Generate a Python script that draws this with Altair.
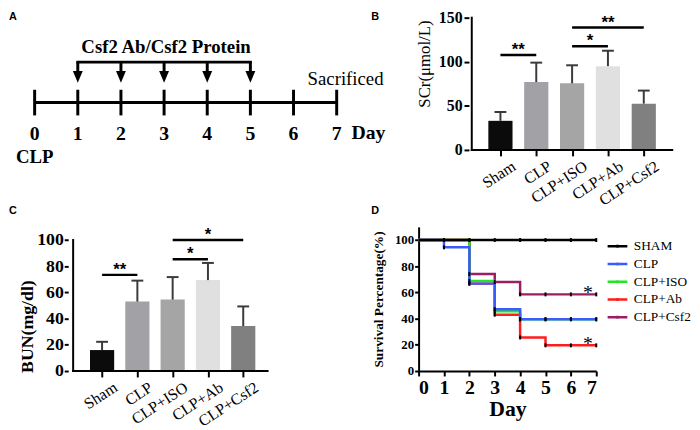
import altair as alt
import pandas as pd

SERIF = "Liberation Serif"
SANS = "Liberation Sans"

# ---------------- Panel B / C : bar charts ----------------
groups = ["Sham", "CLP", "CLP+ISO", "CLP+Ab", "CLP+Csf2"]
group_pos = [0, 1, 2, 3, 4]
bar_colors = ["#0b0b0b", "#a1a1a6", "#a5a5a5", "#e0e0e0", "#808080"]
scr_mean = [33.0, 77.0, 75.5, 95.0, 52.5]
scr_upper = [43.0, 99.0, 96.0, 112.5, 67.3]
bun_mean = [16.0, 53.0, 54.5, 69.4, 34.3]
bun_upper = [22.3, 69.0, 71.7, 82.5, 49.3]

scr_sig_from = [0, 2, 2]
scr_sig_to = [1, 3, 4]
scr_sig_level = [107.7, 117.5, 138.8]
scr_sig_text = ["**", "*", "**"]
bun_sig_from = [0, 2, 2]
bun_sig_to = [1, 3, 4]
bun_sig_level = [73.4, 85.4, 100.0]
bun_sig_text = ["**", "*", "*"]

# ---------------- Panel D : survival ----------------
surv_days = [0, 1, 2, 3, 4, 5, 6, 7]
surv_names = ["SHAM", "CLP", "CLP+ISO", "CLP+Ab", "CLP+Csf2"]
surv_colors = ["#000000", "#3b5bff", "#22e622", "#ff1c1c", "#9b1d62"]
surv_sham = [100, 100, 100, 100, 100, 100, 100, 100]
surv_clp = [100, 94.4, 66.7, 47.2, 39.5, 39.5, 39.5, 39.5]
surv_iso = [100, 100, 68.7, 45.6, 39.5, 39.5, 39.5, 39.5]
surv_ab = [100, 100, 66.7, 43.0, 25.6, 19.6, 19.6, 19.6]
surv_csf2 = [100, 100, 74.0, 67.9, 58.5, 58.5, 58.5, 58.5]
surv_star_day = [6.67, 6.67]
surv_star_value = [58.5, 19.6]

# ---------------- Panel A : timeline ----------------
timeline_days = [0, 1, 2, 3, 4, 5, 6, 7]
dose_days = [1, 2, 3, 4, 5]
protocol_text = "Csf2 Ab/Csf2 Protein"


def panel_title(letter, dx, offset):
    return alt.TitleParams(text=letter, anchor="start", frame="group", font=SANS,
                           fontSize=11, fontWeight="bold", color="black",
                           dx=dx, offset=offset)


# ===== Panel A =====
ax_scale = alt.Scale(domain=[0.778, 5.513], nice=False, zero=False)
ay_scale = alt.Scale(domain=[0, 1], nice=False, zero=False)


def AX(field):
    return alt.X(field, type="quantitative", scale=ax_scale, axis=None)


def AYD(v):
    return alt.YDatum(v, scale=ay_scale, axis=None)


tl_df = pd.DataFrame({"day": timeline_days, "label": [str(d) for d in timeline_days]})
dose_df = pd.DataFrame({"day": dose_days})
span_df = pd.DataFrame({"start": [timeline_days[0]], "end": [timeline_days[-1]]})
dose_span_df = pd.DataFrame({"start": [dose_days[0]], "end": [dose_days[-1]]})

a_line = alt.Chart(span_df).mark_rule(strokeWidth=3, color="black").encode(
    x=AX("start"), x2="end", y=AYD(0.358))
a_ticks = alt.Chart(tl_df).mark_rule(strokeWidth=3, color="black").encode(
    x=AX("day"), y=AYD(0.261), y2=alt.Y2Datum(0.455))
a_nums = alt.Chart(tl_df).mark_text(font=SERIF, fontSize=20, fontWeight="bold",
                                    baseline="middle", color="black").encode(
    x=AX("day"), y=AYD(0.123), text="label:N")
a_clp = alt.Chart(tl_df.head(1)).mark_text(font=SERIF, fontSize=19, fontWeight="bold",
                                           baseline="middle", color="black").encode(
    x=AX("day"), y=AYD(-0.052), text=alt.value("CLP"))
a_day = alt.Chart(tl_df.tail(1)).mark_text(font=SERIF, fontSize=20, fontWeight="bold",
                                           baseline="middle", align="left", dx=15,
                                           color="black").encode(
    x=AX("day"), y=AYD(0.127), text=alt.value("Day"))
a_sac = alt.Chart(tl_df.tail(1)).mark_text(font=SERIF, fontSize=19, baseline="middle",
                                           dx=9, color="black").encode(
    x=AX("day"), y=AYD(0.532), text=alt.value("Sacrificed"))
a_bracket = alt.Chart(dose_span_df).mark_rule(strokeWidth=3, color="black",
                                              strokeCap="square").encode(
    x=AX("start"), x2="end", y=AYD(0.664))
a_shafts = alt.Chart(dose_df).mark_rule(strokeWidth=3, color="black").encode(
    x=AX("day"), y=AYD(0.664), y2=alt.Y2Datum(0.582))
a_heads = alt.Chart(dose_df).mark_point(shape="M-1,-1.2L1,-1.2L0,1.2Z", size=100,
                                        filled=True, color="black", opacity=1).encode(
    x=AX("day"), y=AYD(0.552))
a_text = alt.Chart(dose_span_df).mark_text(font=SERIF, fontSize=19, fontWeight="bold",
                                           baseline="middle", color="black", dx=2).encode(
    x=alt.X("mid:Q", scale=ax_scale, axis=None), y=AYD(0.780),
    text=alt.value(protocol_text)).transform_calculate(mid="(datum.start + datum.end) / 2")

panel_a = alt.layer(a_line, a_ticks, a_nums, a_clp, a_day, a_sac, a_bracket, a_shafts,
                    a_heads, a_text).properties(
    width=207, height=134, title=panel_title("A", -60, -4.3))

# ===== Panels B & C =====
bars_df = pd.DataFrame({"group": groups, "pos": group_pos, "scr": scr_mean,
                        "scr_hi": scr_upper, "bun": bun_mean, "bun_hi": bun_upper})
label_expr = "[" + ", ".join("'%s'" % g for g in groups) + "][datum.value]"


def bar_panel(mean_col, hi_col, sig_df, x_domain, axis_start, y_domain, y_top, y_ticks,
              y_label_size, y_title_spec, y_tick_size, y_label_pad, y_offset, width,
              height, title, title_mark=None):
    xs = alt.Scale(domain=x_domain, nice=False, zero=False)
    ys = alt.Scale(domain=y_domain, nice=False)
    x_axis = alt.Axis(values=group_pos, labelExpr=label_expr, labelAngle=-33,
                      labelFont=SERIF, labelFontSize=16, labelFontWeight="normal",
                      labelOffset=9, labelPadding=2, tickSize=6, title=None, grid=False,
                      labelOverlap=False, labelBound=False, domain=False)
    y_axis = alt.Axis(values=y_ticks, labelFont=SERIF, labelFontSize=y_label_size,
                      labelFontWeight="bold", tickSize=y_tick_size,
                      labelPadding=y_label_pad, grid=False, format="d",
                      offset=y_offset, domain=False, **y_title_spec)
    X = alt.X("pos:Q", scale=xs, axis=x_axis)
    base = alt.Chart(bars_df)
    bars = base.mark_bar(size=24.5).encode(
        x=X, y=alt.Y(mean_col + ":Q", scale=ys, axis=y_axis),
        color=alt.Color("group:N", scale=alt.Scale(domain=groups, range=bar_colors),
                        legend=None))
    stems = base.mark_rule(strokeWidth=2, color="#3a3a3a").encode(
        x=X, y=alt.Y(mean_col + ":Q", scale=ys, axis=y_axis), y2=hi_col + ":Q")
    caps = base.mark_tick(size=12, thickness=2, orient="horizontal", color="#3a3a3a",
                          opacity=1).encode(
        x=X, y=alt.Y(hi_col + ":Q", scale=ys, axis=y_axis))
    frame_df = pd.DataFrame({"x0": [axis_start], "x1": [x_domain[1]],
                             "y0": [y_domain[0]], "y1": [y_top]})
    x_line = alt.Chart(frame_df).mark_rule(strokeWidth=2, color="black",
                                           strokeCap="square").encode(
        x=alt.X("x0:Q", scale=xs, axis=x_axis), x2="x1:Q",
        y=alt.Y("y0:Q", scale=ys, axis=y_axis))
    y_line = alt.Chart(frame_df).mark_rule(strokeWidth=2, color="black",
                                           strokeCap="square").encode(
        x=alt.X("x0:Q", scale=xs, axis=x_axis),
        y=alt.Y("y0:Q", scale=ys, axis=y_axis), y2="y1:Q")
    sig_lines = alt.Chart(sig_df).mark_rule(strokeWidth=2.5, color="black").encode(
        x=alt.X("a:Q", scale=xs, axis=x_axis), x2="b:Q",
        y=alt.Y("lvl:Q", scale=ys, axis=y_axis))
    stars = alt.Chart(sig_df).transform_calculate(mid="(datum.a + datum.b) / 2").mark_text(
        font=SANS, fontSize=17, fontWeight="bold", baseline="alphabetic", dy=0,
        color="black").encode(
        x=alt.X("mid:Q", scale=xs, axis=x_axis),
        y=alt.Y("lvl:Q", scale=ys, axis=y_axis), text="t:N")
    layers = [bars, stems, caps, x_line, y_line, sig_lines, stars]
    if title_mark is not None:
        text, tx, ty, size = title_mark
        tdf = pd.DataFrame({"tx": [tx], "ty": [ty]})
        layers.append(alt.Chart(tdf).mark_text(
            font=SERIF, fontSize=size, angle=270, align="center", baseline="middle",
            color="black").encode(
            x=alt.X("tx:Q", scale=xs, axis=x_axis),
            y=alt.Y("ty:Q", scale=ys, axis=y_axis), text=alt.value(text)))
    return alt.layer(*layers).properties(width=width, height=height, title=title)


scr_sig = pd.DataFrame({"a": scr_sig_from, "b": scr_sig_to, "lvl": scr_sig_level,
                        "t": scr_sig_text})
bun_sig = pd.DataFrame({"a": bun_sig_from, "b": bun_sig_to, "lvl": bun_sig_level,
                        "t": bun_sig_text})

panel_b = bar_panel("scr", "scr_hi", scr_sig, [-2.146, 4.795], -0.8, [0, 150], 150,
                    [0, 50, 100, 150], 16, {"title": None}, 5, 2, -51,
                    262, 134, panel_title("B", -48, -12.3),
                    title_mark=("SCr(μmol/L)", -2.093, 97.4, 17))
panel_c = bar_panel("bun", "bun_hi", bun_sig, [-0.82, 4.69], -0.82, [0, 110], 100,
                    [0, 20, 40, 60, 80, 100], 18,
                    {"title": "BUN(mg/dl)", "titleFont": SERIF, "titleFontSize": 18,
                     "titleFontWeight": "bold", "titleX": -32.5, "titleY": 100.5},
                    4, 1, 0, 207, 146, panel_title("C", -60, 10.7))

# ===== Panel D =====
rows = []
for name, vals in zip(surv_names, [surv_sham, surv_clp, surv_iso, surv_ab, surv_csf2]):
    for d, v in zip(surv_days, vals):
        rows.append({"series": name, "day": d, "pct": v})
surv_df = pd.DataFrame(rows)
star_df = pd.DataFrame({"day": surv_star_day, "pct": surv_star_value})

dx_scale = alt.Scale(domain=[0, 7], nice=False, zero=False)
dy_scale = alt.Scale(domain=[0, 110], nice=False)
d_x_axis = alt.Axis(values=surv_days, format="d", labelFont=SERIF, labelFontSize=20,
                    labelFontWeight="bold", labelPadding=2, tickSize=5, title="Day",
                    titleFont=SERIF, titleFontSize=22, titleFontWeight="bold",
                    titlePadding=1, grid=False)
d_y_axis = alt.Axis(values=[0, 20, 40, 60, 80, 100], format="d", labelFont=SERIF,
                    labelFontSize=13, labelFontWeight="bold", labelPadding=1, tickSize=4,
                    title="Survival Percentage(%)", titleFont=SERIF, titleFontSize=13.5,
                    titleFontWeight="bold", titlePadding=9, grid=False)
d_legend = alt.Legend(orient="none", legendX=190, legendY=8, title=None, labelFont=SERIF,
                      labelFontSize=13.5, labelColor="black", labelOffset=5,
                      symbolType="M-1,0L1,0M0,-0.15L0,0.15", symbolSize=400,
                      symbolStrokeWidth=2.5, rowPadding=-3)
d_color = alt.Color("series:N", scale=alt.Scale(domain=surv_names, range=surv_colors),
                    legend=d_legend)
DX = alt.X("day:Q", scale=dx_scale, axis=d_x_axis)
DY = alt.Y("pct:Q", scale=dy_scale, axis=d_y_axis)

draw_order = ["CLP+Ab", "CLP+Csf2", "CLP+ISO", "CLP", "SHAM"]
d_layers = []
for s in draw_order:
    d_layers.append(
        alt.Chart(surv_df).transform_filter(alt.datum.series == s).mark_line(
            interpolate="step-after", strokeWidth=2.5).encode(x=DX, y=DY, color=d_color))
d_marks = alt.Chart(surv_df).transform_filter("datum.day >= 1").mark_point(
    shape="M-0.5,-1L0.5,-1L0.5,1L-0.5,1Z", size=16, filled=True, color="black",
    opacity=1).encode(x=DX, y=DY)
d_stars = alt.Chart(star_df).mark_text(font=SERIF, fontSize=20, baseline="alphabetic",
                                        dy=5, color="black").encode(
    x=DX, y=DY, text=alt.value("*"))

panel_d = alt.layer(*d_layers, d_marks, d_stars).properties(
    width=180, height=146, title=panel_title("D", -48, 10.7))

chart = alt.ConcatChart(
    concat=[panel_a, panel_b, panel_c, panel_d], columns=2,
    spacing={"row": 78, "column": 148}, bounds="flush", align="each"
).resolve_scale(color="independent").resolve_legend(color="independent").properties(
    padding={"left": 0, "top": -2, "right": 0, "bottom": 0}
).configure(background="white").configure_axis(
    domainColor="black", domainWidth=2, tickColor="black", tickWidth=2,
    labelColor="black", titleColor="black"
).configure_view(stroke="transparent")

chart.save("out.html", embed_options={"renderer": "svg", "actions": False})
